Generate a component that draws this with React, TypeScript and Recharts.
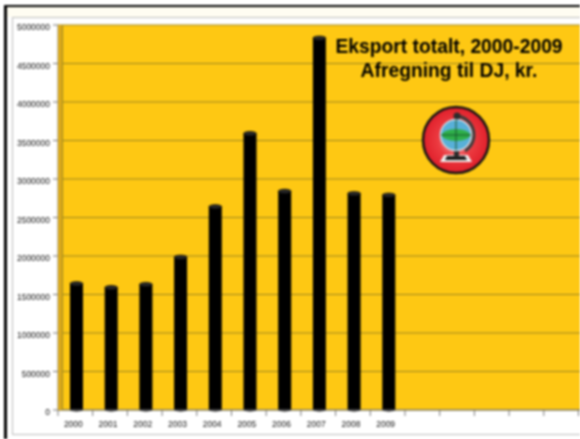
import React from "react";
import { BarChart, Bar, XAxis, YAxis, CartesianGrid } from "recharts";

const years = ["2000", "2001", "2002", "2003", "2004", "2005", "2006", "2007", "2008", "2009"];
const exportValues = [1640000, 1590000, 1630000, 1985000, 2640000, 3590000, 2840000, 4830000, 2810000, 2790000];
// the axis keeps going past 2009 with empty slots
const emptySlots = ["", "", "", "", "", ""];
const yTicks = [0, 500000, 1000000, 1500000, 2000000, 2500000, 3000000, 3500000, 4000000, 4500000, 5000000];

const chartData = [...years, ...emptySlots].map((year, i) => ({
  year,
  value: i < exportValues.length ? exportValues[i] : null,
}));

const PLOT_LEFT = 58;
const BAND = 34.7;

const Cylinder = (props: any) => {
  const { x, y, width, height } = props;
  if (!height) return null;
  // bars sit a pixel right of the band centre in the 3D view
  const left = x + 1;
  const cx = left + width / 2;
  return (
    <g>
      <rect x={left} y={y} width={width} height={height} fill="#000" />
      <ellipse cx={cx} cy={y + height} rx={width / 2} ry={1.5} fill="#000" />
      <ellipse cx={cx} cy={y} rx={width / 2} ry={2.2} fill="#262626" stroke="#000" strokeWidth={0.5} />
    </g>
  );
};

const YearTick = (props: any) => {
  const { x, y, payload } = props;
  const left = x - BAND / 2;
  return (
    <g>
      <line x1={left} y1={y - 8} x2={left} y2={y - 2} stroke="#777" strokeWidth={1} />
      <text x={x - 2} y={y + 9} textAnchor="middle" fontSize={8.5} fill="#111">
        {payload.value}
      </text>
    </g>
  );
};

const Globe = () => (
  <svg width={70} height={70} viewBox="0 0 70 70" style={{ position: "absolute", left: 421, top: 105 }}>
    <defs>
      <radialGradient id="badge" cx="50%" cy="50%" r="50%">
        <stop offset="0%" stopColor="#f6b8b8" />
        <stop offset="55%" stopColor="#ec3a40" />
        <stop offset="100%" stopColor="#e01f2a" />
      </radialGradient>
    </defs>
    <circle cx={35} cy={35} r={33} fill="url(#badge)" stroke="#151515" strokeWidth={2.5} />
    <path d="M19 57 l4 -7 h24 l4 7 z" fill="#f2f2f2" />
    <path d="M24 55 l2 -4 h18 l2 4 z" fill="#1d1d1d" />
    <rect x={33} y={43} width={5} height={9} fill="#2c2c2c" />
    <path d="M36 11 a19 19 0 0 1 8 35" fill="none" stroke="#3d3d3d" strokeWidth={3} />
    <circle cx={35} cy={30} r={15.5} fill="#58b0d8" stroke="#cfdde4" strokeWidth={1.5} />
    <ellipse cx={35} cy={30} rx={14} ry={6} fill="#2fb04a" />
    <path d="M20 30 h30 M35 15 v30" stroke="#14532d" strokeWidth={1} />
    <circle cx={36} cy={11} r={3.5} fill="#2c2c2c" />
  </svg>
);

export default function App() {
  return (
    <div
      style={{
        position: "absolute",
        left: 0,
        top: 0,
        width: 580,
        height: 439,
        overflow: "hidden",
        background: "#fff",
        fontFamily: "'Liberation Sans', Arial, sans-serif",
        filter: "blur(0.8px)",
      }}
    >
      {/* outer frame and the pale band above the chart */}
      <div style={{ position: "absolute", left: 5, top: 5, width: 600, height: 12, background: "#fffdf2", borderTop: "2px solid #000", boxSizing: "border-box" }} />
      <div style={{ position: "absolute", left: 4, top: 5, width: 3, height: 440, background: "#000" }} />
      <div style={{ position: "absolute", left: 12, top: 17, width: 600, height: 418, border: "1px solid #bbb", boxSizing: "border-box" }} />

      <div style={{ position: "absolute", left: 0, top: 0 }}>
        <BarChart
          width={PLOT_LEFT + BAND * 16}
          height={439}
          data={chartData}
          margin={{ top: 25, right: 0, bottom: 0, left: 0 }}
          barCategoryGap={0}
        >
          <CartesianGrid vertical={false} stroke="#9c8620" strokeWidth={1} fill="#fec813" syncWithTicks />
          <XAxis
            dataKey="year"
            height={29}
            interval={0}
            tick={<YearTick />}
            tickLine={false}
            axisLine={{ stroke: "#777" }}
          />
          <YAxis
            width={PLOT_LEFT}
            domain={[0, 5000000]}
            ticks={yTicks}
            interval={0}
            tick={{ fontSize: 8.5, fill: "#111", dy: 2 }}
            tickSize={5}
            tickMargin={3}
            tickLine={{ stroke: "#777" }}
            axisLine={{ stroke: "#777" }}
          />
          <Bar dataKey="value" barSize={13} shape={<Cylinder />} isAnimationActive={false} />
        </BarChart>
      </div>

      {/* side wall of the 3D plot */}
      <div style={{ position: "absolute", left: 58, top: 25, width: 4, height: 385, background: "#dcaa1a", borderRight: "1px solid #9c8620" }} />

      <div
        style={{
          position: "absolute",
          left: 310,
          top: 35,
          width: 278,
          textAlign: "center",
          fontSize: 19.3,
          lineHeight: "24px",
          fontWeight: "bold",
          color: "#000",
        }}
      >
        <div>Eksport totalt, 2000-2009</div>
        <div>Afregning til DJ, kr.</div>
      </div>
      <Globe />
    </div>
  );
}
